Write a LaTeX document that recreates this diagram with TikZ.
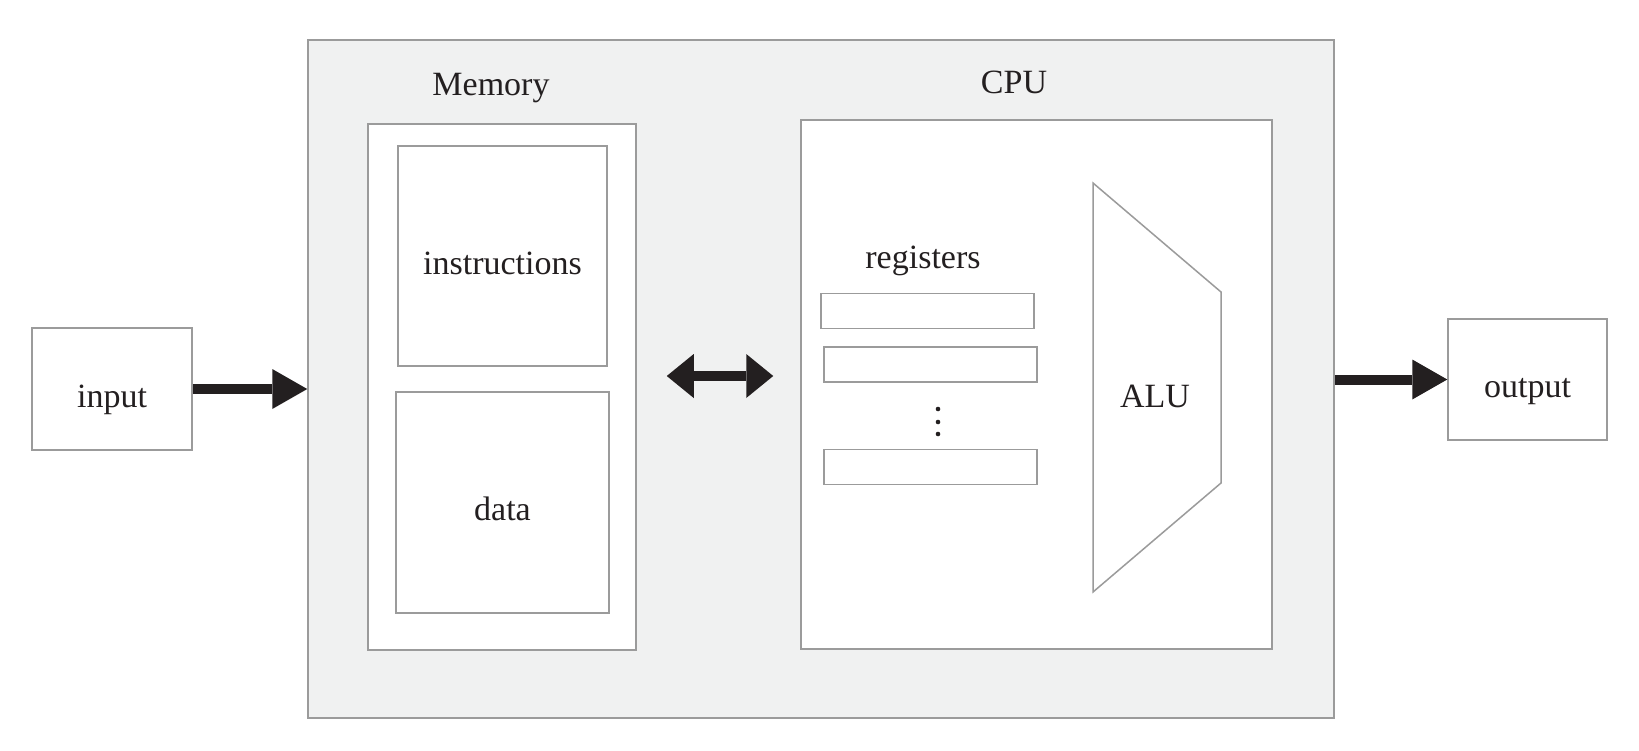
\documentclass[tikz,border=0pt]{standalone}
\usepackage{fontspec}
\setmainfont{Liberation Serif}
\usetikzlibrary{arrows.meta, positioning, calc}
\definecolor{archGray} {HTML}{9B9B9B}
\definecolor{archFill} {HTML}{F0F1F1}
\definecolor{archInk}  {HTML}{231F20}
\tikzset{
  unitbox/.style = {rectangle, draw=archGray, fill=white, line width=1.5pt,
                    inner sep=0pt, text=archInk, text height=36pt, text depth=0pt,
                    font=\fontsize{34}{40}\selectfont},
  panel/.style   = {rectangle, draw=archGray, fill=archFill, line width=1.5pt},
  regbox/.style  = {rectangle, draw=archGray, fill=white, line width=1.5pt,
                    minimum width=213pt, minimum height=35pt},
  tag/.style     = {text=archInk, font=\fontsize{34}{40}\selectfont},
  arrow/.style   = {-{Triangle[length=35pt, width=40pt, line width=0pt]},
                    line width=10pt, color=archInk},
  dblarrow/.style= {{Triangle[length=27pt, width=44pt, line width=0pt]}-{Triangle[length=27pt, width=44pt, line width=0pt]},
                    line width=10pt, color=archInk},
}
\begin{document}
\begin{tikzpicture}[x=1pt, y=-1pt]
  \useasboundingbox (0,0) rectangle (1639,750);

  % ---- Computer frame ----
  \node[panel, minimum width=1026pt, minimum height=678pt] (computer) at (821,379) {};

  % ---- Memory (left) ----
  \node[tag] (memlabel) at (491,88) {Memory};
  \node[unitbox, minimum width=268pt, minimum height=526pt] (memory) at (502,387) {};
  \node[unitbox, minimum width=209pt, minimum height=220pt] (instr) at (502.5,256) {instructions};
  \node[unitbox, minimum width=213pt, minimum height=221pt] (data)  at (502.5,502.5) {data};

  % ---- CPU (right) ----
  \node[tag] (cpulabel) at (1014,82) {CPU};
  \node[unitbox, minimum width=471pt, minimum height=529pt] (cpu) at (1036.5,384.5) {};
  \node[tag] (reglabel) at (923,261) {registers};
  \node[regbox] (reg1) at (927.5,311) {};
  \node[regbox] (reg2) at (930.5,364.5) {};
  \node[regbox] (reg3) at (930.5,467) {};
  \foreach \y in {409,422,434}
    \fill[archInk] (938,\y) circle (2.3pt);

  % ---- ALU ----
  \draw[draw=archGray, fill=white, line width=1.5pt]
    (1093,183) -- (1221,292) -- (1221,483) -- (1093,592) -- cycle;
  \node[tag] (alu) at (1155,396) {ALU};

  % ---- I/O ----
  \node[unitbox, minimum width=160pt, minimum height=122pt] (input)  at (112,389) {input};
  \node[unitbox, minimum width=159pt, minimum height=121pt] (output) at (1527.5,379.5) {output};

  % ---- Arrows ----
  \draw[arrow] (input.east) -- (input.east -| computer.west);
  \draw[arrow] (output.west -| computer.east) -- (output.west);
  \draw[dblarrow, shorten <=30pt, shorten >=27pt]
    ([yshift=11pt]memory.east) -- ([yshift=11pt]memory.east -| cpu.west);

\end{tikzpicture}
\end{document}
